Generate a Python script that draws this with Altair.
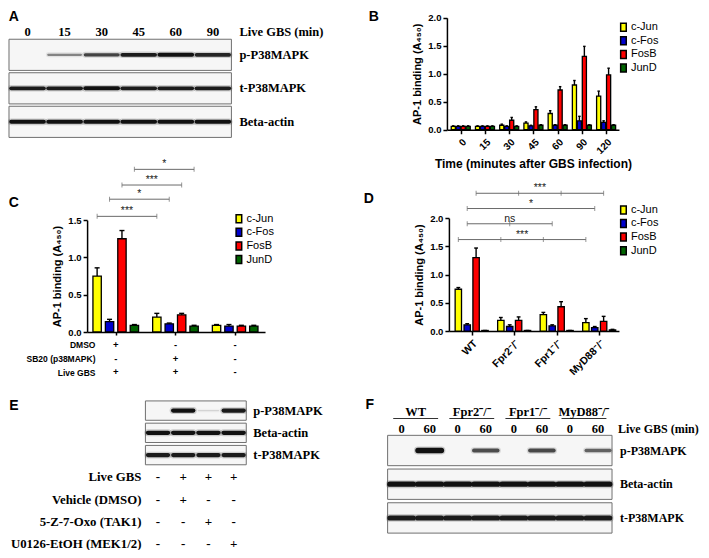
import json
import altair as alt
import pandas as pd

W, H = 693, 542
SX, SY = 693 / 701, 542 / 552


def X(r):
    return round((r - 2) * SX, 2)


def Y(r):
    return round((r - 3) * SY, 2)


SANS = "Liberation Sans"
SERIF = "Liberation Serif"

SERIES = ["c-Jun", "c-Fos", "FosB", "JunD"]
SERIES_COLORS = ["#FFFF00", "#0000CD", "#FF0000", "#006400"]
YTITLE = "AP-1 binding (A₄₅₀)"

# ---------------- Panel A (western blot, time course)
A_TIMES = ["0", "15", "30", "45", "60", "90"]
A_HEADER = "Live GBS (min)"
A_BLOTS = ["p-P38MAPK", "t-P38MAPK", "Beta-actin"]
A_P38 = [0.0, 0.45, 0.75, 0.95, 1.0, 0.9]
A_TP38 = [0.95, 0.95, 1.0, 0.95, 0.95, 0.95]
A_ACTIN = [1.0, 1.0, 1.0, 1.0, 1.0, 1.0]

# ---------------- Panel B (AP-1 binding time course)
B_TIMES = ["0", "15", "30", "45", "60", "90", "120"]
B_CJUN = [0.06, 0.06, 0.08, 0.12, 0.29, 0.80, 0.60]
B_CFOS = [0.06, 0.06, 0.06, 0.07, 0.08, 0.16, 0.13]
B_FOSB = [0.06, 0.06, 0.17, 0.36, 0.71, 1.31, 0.98]
B_JUND = [0.06, 0.06, 0.06, 0.08, 0.08, 0.08, 0.08]
B_CJUN_ERR = [0.01, 0.01, 0.02, 0.02, 0.05, 0.08, 0.09]
B_CFOS_ERR = [0.01, 0.01, 0.01, 0.01, 0.01, 0.08, 0.03]
B_FOSB_ERR = [0.01, 0.01, 0.05, 0.05, 0.06, 0.18, 0.12]
B_JUND_ERR = [0.01, 0.01, 0.01, 0.01, 0.01, 0.01, 0.01]

# ---------------- Panel C (p38 inhibitor)
C_GROUPS = ["g1", "g2", "g3"]
C_CJUN = [0.75, 0.20, 0.09]
C_CFOS = [0.14, 0.11, 0.08]
C_FOSB = [1.25, 0.23, 0.08]
C_JUND = [0.09, 0.08, 0.08]
C_CJUN_ERR = [0.11, 0.05, 0.01]
C_CFOS_ERR = [0.03, 0.01, 0.02]
C_FOSB_ERR = [0.11, 0.02, 0.01]
C_JUND_ERR = [0.01, 0.01, 0.01]
C_TREAT = ["DMSO", "SB20 (p38MAPK)", "Live GBS"]
C_SIGNS = [["+", "-", "-"], ["-", "+", "-"], ["+", "+", "-"]]
# (series, start group, end group, level, label, intermediate groups)
C_BRACKETS = [
    ("c-Jun", 0, 1, 1.55, "***", []),
    ("c-Fos", 0, 1, 1.78, "*", []),
    ("FosB", 0, 1, 1.97, "***", []),
    ("JunD", 0, 1, 2.18, "*", []),
]

# ---------------- Panel D (knockouts)
D_GROUPS = ["WT", "Fpr2⁻/⁻", "Fpr1⁻/⁻", "MyD88⁻/⁻"]
D_CJUN = [0.74, 0.19, 0.29, 0.15]
D_CFOS = [0.11, 0.08, 0.09, 0.06]
D_FOSB = [1.30, 0.19, 0.43, 0.17]
D_JUND = [0.01, 0.01, 0.01, 0.02]
D_CJUN_ERR = [0.03, 0.05, 0.04, 0.07]
D_CFOS_ERR = [0.02, 0.03, 0.02, 0.02]
D_FOSB_ERR = [0.17, 0.06, 0.09, 0.09]
D_JUND_ERR = [0.0, 0.0, 0.0, 0.01]
D_BRACKETS = [
    ("c-Jun", 0, 3, 1.62, "***", [1, 2]),
    ("c-Fos", 0, 2, 1.90, "ns", [1]),
    ("c-Fos", 0, 3, 2.17, "*", []),
    ("FosB", 0, 3, 2.44, "***", [1, 2]),
]

# ---------------- Panel E (inhibitor blots)
E_BLOTS = ["p-P38MAPK", "Beta-actin", "t-P38MAPK"]
E_P38 = [0.0, 1.0, 0.12, 0.95]
E_ACTIN = [1.0, 1.0, 1.0, 1.0]
E_TP38 = [0.95, 0.95, 0.95, 0.95]
E_TREAT = ["Live GBS", "Vehicle (DMSO)", "5-Z-7-Oxo (TAK1)", "U0126-EtOH (MEK1/2)"]
E_SIGNS = [["-", "+", "+", "+"], ["-", "+", "-", "-"], ["-", "-", "+", "-"], ["-", "-", "-", "+"]]

# ---------------- Panel F (knockout blots)
F_GROUPS = ["WT", "Fpr2⁻/⁻", "Fpr1⁻/⁻", "MyD88⁻/⁻"]
F_TIMES = ["0", "60", "0", "60", "0", "60", "0", "60"]
F_HEADER = "Live GBS (min)"
F_BLOTS = ["p-P38MAPK", "Beta-actin", "t-P38MAPK"]
F_P38 = [0.0, 1.0, 0.0, 0.7, 0.0, 0.72, 0.0, 0.6]
F_ACTIN = [1.0, 1.0, 1.0, 1.0, 1.0, 1.0, 1.0, 1.0]
F_TP38 = [0.95, 0.95, 0.95, 0.95, 0.95, 0.95, 0.95, 0.95]


# ======================================================================
def bar_df(cats, means, errs):
    rows = []
    for si, s in enumerate(SERIES):
        for gi, c in enumerate(cats):
            rows.append(dict(cat=c, gi=gi, series=s, si=si,
                             mean=means[si][gi], err=errs[si][gi]))
    return pd.DataFrame(rows)


def make_legend(lx, ly):
    return alt.Legend(
        orient="none", legendX=X(lx), legendY=Y(ly), title=None,
        symbolType="M-0.7,-1L0.7,-1L0.7,1L-0.7,1Z", symbolSize=64,
        symbolStrokeColor="black", symbolStrokeWidth=1.5, symbolOpacity=1,
        labelFont=SANS, labelFontSize=11, labelColor="black",
        labelOffset=2, rowPadding=1.6, clipHeight=11, padding=0,
    )


def make_yaxis(ax_x, values, fmt=".1f"):
    return alt.Axis(
        orient="left", offset=-X(ax_x), values=values, format=fmt,
        title=YTITLE, titleFont=SANS, titleFontSize=11, titleFontWeight="bold",
        titleColor="black", titlePadding=5,
        labelFont=SANS, labelFontSize=9.5, labelFontWeight="bold",
        labelColor="black", labelPadding=2, labelFlush=False, labelOverlap=False,
        tickSize=4, tickWidth=1.5, tickColor="black",
        domainColor="black", domainWidth=1.5, grid=False,
    )


def make_xaxis(ax_y, cats, labels=True, angle=-45, title=None, size=10, tick=4):
    kw = dict(
        orient="bottom", offset=Y(ax_y) - H, values=list(range(len(cats))),
        tickSize=tick, tickWidth=1.5, tickColor="black",
        domainColor="black", domainWidth=1.5, grid=False,
        labelFlush=False, labelOverlap=False,
    )
    if labels:
        kw.update(
            labelExpr=json.dumps(cats, ensure_ascii=False) + "[round(datum.value)]",
            labelAngle=angle, labelAlign="right", labelBaseline="top",
            labelFont=SANS, labelFontSize=size, labelFontWeight="bold",
            labelColor="black", labelPadding=3,
        )
    else:
        kw.update(labels=False)
    if title:
        kw.update(title=title, titleFont=SANS, titleFontSize=12,
                  titleFontWeight="bold", titleColor="black", titlePadding=3)
    else:
        kw.update(title=None)
    return alt.Axis(**kw)


def bar_panel(df, x_px, x_dom, y_px, y_dom, pitch, bw, x_axis, y_axis, legend,
              brackets=None):
    xs = alt.Scale(domain=x_dom, range=x_px, nice=False, zero=False)
    ys = alt.Scale(domain=y_dom, range=y_px, nice=False, zero=False)

    def ex(field):
        return alt.X(field, scale=xs, axis=x_axis)

    def ey(field):
        return alt.Y(field, scale=ys, axis=y_axis)

    base = alt.Chart(df).transform_calculate(
        pos=f"datum.gi + (datum.si - 1.5) * {pitch}"
    ).transform_calculate(
        x0=f"datum.pos - {bw / 2}", x1=f"datum.pos + {bw / 2}",
        c0=f"datum.pos - {bw * 0.3}", c1=f"datum.pos + {bw * 0.3}",
        top="datum.mean + datum.err",
    )
    bars = base.mark_bar(stroke="black", strokeWidth=1.3).encode(
        x=ex("x0:Q"), x2="x1:Q",
        y=ey("mean:Q"), y2=alt.Y2Datum(0),
        color=alt.Color("series:N", scale=alt.Scale(domain=SERIES, range=SERIES_COLORS),
                        legend=legend),
    )
    stem = base.mark_rule(color="black", strokeWidth=1.4).encode(
        x=ex("pos:Q"), y=ey("mean:Q"), y2="top:Q",
    )
    cap = base.mark_rule(color="black", strokeWidth=1.4).encode(
        x=ex("c0:Q"), x2="c1:Q", y=ey("top:Q"),
    )
    layers = [bars, stem, cap]
    if brackets:
        bd = pd.DataFrame([dict(si=SERIES.index(s), gs=a, ge=b, level=lv, label=t)
                           for (s, a, b, lv, t, m) in brackets])
        td = pd.DataFrame([dict(si=SERIES.index(s), g=g, level=lv)
                           for (s, a, b, lv, t, m) in brackets for g in [a] + m + [b]])
        bl = alt.Chart(bd).transform_calculate(
            xa=f"datum.gs + (datum.si - 1.5) * {pitch}",
            xb=f"datum.ge + (datum.si - 1.5) * {pitch}",
        ).transform_calculate(xm="(datum.xa + datum.xb) / 2")
        line = bl.mark_rule(color="#6a6a6a", strokeWidth=1).encode(
            x=ex("xa:Q"), x2="xb:Q", y=ey("level:Q"),
        )
        txt = bl.mark_text(font=SANS, fontSize=10.5, color="#222",
                           baseline="alphabetic", dy=-2).encode(
            x=ex("xm:Q"), y=ey("level:Q"), text="label:N",
        )
        ticks = alt.Chart(td).transform_calculate(
            xt=f"datum.g + (datum.si - 1.5) * {pitch}"
        ).mark_tick(orient="vertical", size=5, thickness=1, color="#6a6a6a").encode(
            x=ex("xt:Q"), y=ey("level:Q"),
        )
        layers += [line, ticks, txt]
    return alt.layer(*layers), xs


def blot_layers(n, rows_all, blot_rows, intens, x_px, y_px, pi, hw, thick,
                label_dx, label_size=12.5):
    xs = alt.Scale(domain=[-0.5, n - 0.5], range=x_px, nice=False, zero=False)
    ys = alt.Scale(domain=rows_all, range=y_px, paddingInner=pi, paddingOuter=pi / 2)
    box_df = pd.DataFrame({"row": blot_rows})
    boxes = alt.Chart(box_df).transform_calculate(
        x0="-0.5", x1=f"{n} - 0.5"
    ).mark_rect(fill="#f6f6f6", stroke="#707070", strokeWidth=1).encode(
        x=alt.X("x0:Q", scale=xs, axis=None), x2="x1:Q",
        y=alt.Y("row:N", scale=ys, axis=None),
    )
    band_df = pd.DataFrame([dict(row=r, lane=i, v=vals[i])
                            for r, vals in zip(blot_rows, intens) for i in range(n)])
    bb = alt.Chart(band_df).transform_calculate(
        b0=f"datum.lane - {hw}", b1=f"datum.lane + {hw}",
        w1=f"0.8 + {thick} * datum.v", w2=f"3.5 + {thick} * datum.v",
        o2="0.22 * datum.v",
    )
    glow = bb.mark_rule(color="#333", strokeCap="round").encode(
        x=alt.X("b0:Q", scale=xs, axis=None), x2="b1:Q",
        y=alt.Y("row:N", scale=ys, axis=None),
        strokeWidth=alt.StrokeWidth("w2:Q", scale=None),
        opacity=alt.Opacity("o2:Q", scale=None),
    )
    core = bb.mark_rule(color="#111", strokeCap="round").encode(
        x=alt.X("b0:Q", scale=xs, axis=None), x2="b1:Q",
        y=alt.Y("row:N", scale=ys, axis=None),
        strokeWidth=alt.StrokeWidth("w1:Q", scale=None),
        opacity=alt.Opacity("v:Q", scale=None),
    )
    labels = alt.Chart(box_df).transform_calculate(
        xr=f"{n} - 0.5"
    ).mark_text(align="left", baseline="middle", dx=label_dx, font=SERIF,
                fontSize=label_size, fontWeight="bold", color="black").encode(
        x=alt.X("xr:Q", scale=xs, axis=None),
        y=alt.Y("row:N", scale=ys, axis=None),
        text="row:N",
    )
    return [boxes, glow, core, labels], xs, ys


def letter(t, cx, cy):
    return alt.Chart(pd.DataFrame({"letter": [t]})).mark_text(
        font=SANS, fontSize=14, fontWeight="bold", color="black",
        align="center", baseline="middle",
    ).encode(text="letter:N", x=alt.value(X(cx)), y=alt.value(Y(cy)))


# ---------------- Panel A
a_layers, a_xs, a_ys = blot_layers(
    len(A_TIMES), [A_HEADER] + A_BLOTS, A_BLOTS, [A_P38, A_TP38, A_ACTIN],
    [X(3), X(228)], [Y(-0.5), Y(136)], 0.07, 0.44, 3.2, 8)
a_head = alt.Chart(pd.DataFrame({"t": A_TIMES, "lane": list(range(len(A_TIMES))),
                                 "row": [A_HEADER] * len(A_TIMES)})).mark_text(
    font=SERIF, fontSize=12.5, fontWeight="bold", color="black", dy=11,
    baseline="middle").encode(
    x=alt.X("lane:Q", scale=a_xs, axis=None), y=alt.Y("row:N", scale=a_ys, axis=None),
    text="t:N")
a_head_lab = alt.Chart(pd.DataFrame({"row": [A_HEADER]})).transform_calculate(
    xr=f"{len(A_TIMES)} - 0.5").mark_text(
    font=SERIF, fontSize=12.5, fontWeight="bold", color="black", dy=11, dx=8,
    align="left", baseline="middle").encode(
    x=alt.X("xr:Q", scale=a_xs, axis=None), y=alt.Y("row:N", scale=a_ys, axis=None),
    text="row:N")
panel_a = alt.layer(*a_layers, a_head, a_head_lab)

# ---------------- Panel B
b_df = bar_df(B_TIMES, [B_CJUN, B_CFOS, B_FOSB, B_JUND],
              [B_CJUN_ERR, B_CFOS_ERR, B_FOSB_ERR, B_JUND_ERR])
panel_b, _ = bar_panel(
    b_df, [X(446), X(620)], [-0.57, 6.53], [Y(127), Y(13)], [0, 2],
    0.205, 0.17,
    make_xaxis(127, B_TIMES, title="Time (minutes after GBS infection)", size=10),
    make_yaxis(446, [0, 0.5, 1.0, 1.5, 2.0]),
    make_legend(619, 17))

# ---------------- Panel C
c_xaxis = make_xaxis(333, C_GROUPS, labels=False, tick=3)
c_df = bar_df(C_GROUPS, [C_CJUN, C_CFOS, C_FOSB, C_JUND],
              [C_CJUN_ERR, C_CFOS_ERR, C_FOSB_ERR, C_JUND_ERR])
c_plot, c_xs = bar_panel(
    c_df, [X(82), X(262)], [-0.48, 2.5], [Y(333), Y(219)], [0, 1.5],
    0.208, 0.14, c_xaxis,
    make_yaxis(82, [0, 0.5, 1.0, 1.5]),
    make_legend(230, 212), brackets=C_BRACKETS)
c_tab_df = pd.DataFrame([dict(row=r, gi=g, sign=C_SIGNS[i][g])
                         for i, r in enumerate(C_TREAT) for g in range(len(C_GROUPS))])
c_table = alt.Chart(c_tab_df).mark_text(
    font=SANS, fontSize=9.5, fontWeight="bold", color="black", baseline="middle").encode(
    x=alt.X("gi:Q", scale=c_xs, axis=c_xaxis),
    y=alt.Y("row:N", scale=alt.Scale(domain=C_TREAT, range=[Y(339), Y(381)]),
            axis=alt.Axis(orient="left", offset=-X(91), domain=False, ticks=False,
                          tickSize=0, labelPadding=1, labelFont=SANS, labelFontSize=8.5,
                          labelFontWeight="bold", labelColor="black", title=None,
                          grid=False)),
    text="sign:N")
panel_c = alt.layer(c_plot, c_table).resolve_scale(y="independent").resolve_axis(
    y="independent")

# ---------------- Panel D
d_df = bar_df(D_GROUPS, [D_CJUN, D_CFOS, D_FOSB, D_JUND],
              [D_CJUN_ERR, D_CFOS_ERR, D_FOSB_ERR, D_JUND_ERR])
panel_d, _ = bar_panel(
    d_df, [X(448), X(620)], [-0.535, 3.465], [Y(332), Y(217)], [0, 2],
    0.209, 0.15,
    make_xaxis(332, D_GROUPS, size=10.5),
    make_yaxis(448, [0, 0.5, 1.0, 1.5, 2.0]),
    make_legend(619, 203), brackets=D_BRACKETS)

# ---------------- Panel E
e_rows = E_BLOTS + E_TREAT
e_layers, e_xs, e_ys = blot_layers(
    4, e_rows, E_BLOTS, [E_P38, E_ACTIN, E_TP38],
    [X(141), X(243)], [Y(401.7), Y(560.3)], 0.13, 0.4, 3.5, 7)
e_sign_df = pd.DataFrame([dict(row=r, lane=j, sign=E_SIGNS[i][j])
                          for i, r in enumerate(E_TREAT) for j in range(4)])
e_signs = alt.Chart(e_sign_df).mark_text(
    font=SERIF, fontSize=13, fontWeight="bold", color="black", baseline="middle").encode(
    x=alt.X("lane:Q", scale=e_xs, axis=None), y=alt.Y("row:N", scale=e_ys, axis=None),
    text="sign:N")
e_tlab = alt.Chart(pd.DataFrame({"row": E_TREAT})).transform_calculate(
    xl="-0.5").mark_text(
    font=SERIF, fontSize=12.8, fontWeight="bold", color="black", align="right",
    baseline="middle", dx=-4).encode(
    x=alt.X("xl:Q", scale=e_xs, axis=None), y=alt.Y("row:N", scale=e_ys, axis=None),
    text="row:N")
panel_e = alt.layer(*e_layers, e_signs, e_tlab)

# ---------------- Panel F
f_layers, f_xs, f_ys = blot_layers(
    len(F_TIMES), F_BLOTS, F_BLOTS, [F_P38, F_ACTIN, F_TP38],
    [X(386), X(613)], [Y(436.5), Y(539.5)], 0.1, 0.42, 4.5, 8, 12)
f_time = alt.Chart(pd.DataFrame({"t": F_TIMES, "lane": list(range(len(F_TIMES))),
                                 "row": [F_BLOTS[0]] * len(F_TIMES)})).mark_text(
    font=SERIF, fontSize=12.5, fontWeight="bold", color="black", dy=-22,
    baseline="middle").encode(
    x=alt.X("lane:Q", scale=f_xs, axis=None), y=alt.Y("row:N", scale=f_ys, axis=None),
    text="t:N")
f_head_lab = alt.Chart(pd.DataFrame({"t": [F_HEADER], "row": [F_BLOTS[0]]})).transform_calculate(
    xr=f"{len(F_TIMES)} - 0.5").mark_text(
    font=SERIF, fontSize=12, fontWeight="bold", color="black", dy=-22, dx=6,
    align="left", baseline="middle").encode(
    x=alt.X("xr:Q", scale=f_xs, axis=None), y=alt.Y("row:N", scale=f_ys, axis=None),
    text="t:N")
f_grp_df = pd.DataFrame({"g": F_GROUPS, "gi": list(range(len(F_GROUPS))),
                         "row": [F_BLOTS[0]] * len(F_GROUPS)})
f_grp_base = alt.Chart(f_grp_df).transform_calculate(
    gc="2 * datum.gi + 0.5", u0="2 * datum.gi - 0.3", u1="2 * datum.gi + 1.3")
f_grp_txt = f_grp_base.mark_text(
    font=SERIF, fontSize=12.5, fontWeight="bold", color="black", dy=-39,
    baseline="middle").encode(
    x=alt.X("gc:Q", scale=f_xs, axis=None), y=alt.Y("row:N", scale=f_ys, axis=None),
    text="g:N")
f_grp_line = f_grp_base.mark_rule(color="#333", strokeWidth=1, yOffset=-32).encode(
    x=alt.X("u0:Q", scale=f_xs, axis=None), x2="u1:Q",
    y=alt.Y("row:N", scale=f_ys, axis=None))
panel_f = alt.layer(*f_layers, f_time, f_head_lab, f_grp_line, f_grp_txt)

chart = alt.layer(
    panel_a, panel_b, panel_c, panel_d, panel_e, panel_f,
    letter("A", 8, 12), letter("B", 372, 12), letter("C", 8, 202),
    letter("D", 367, 198), letter("E", 8, 408), letter("F", 368, 407),
).resolve_scale(
    x="independent", y="independent", color="independent"
).resolve_axis(
    x="independent", y="independent"
).resolve_legend(
    color="independent"
).properties(
    width=W, height=H, padding=0,
    autosize=alt.AutoSizeParams(type="none"),
).configure_view(stroke=None)

chart.save("out.html", embed_options={"renderer": "svg", "actions": False})
